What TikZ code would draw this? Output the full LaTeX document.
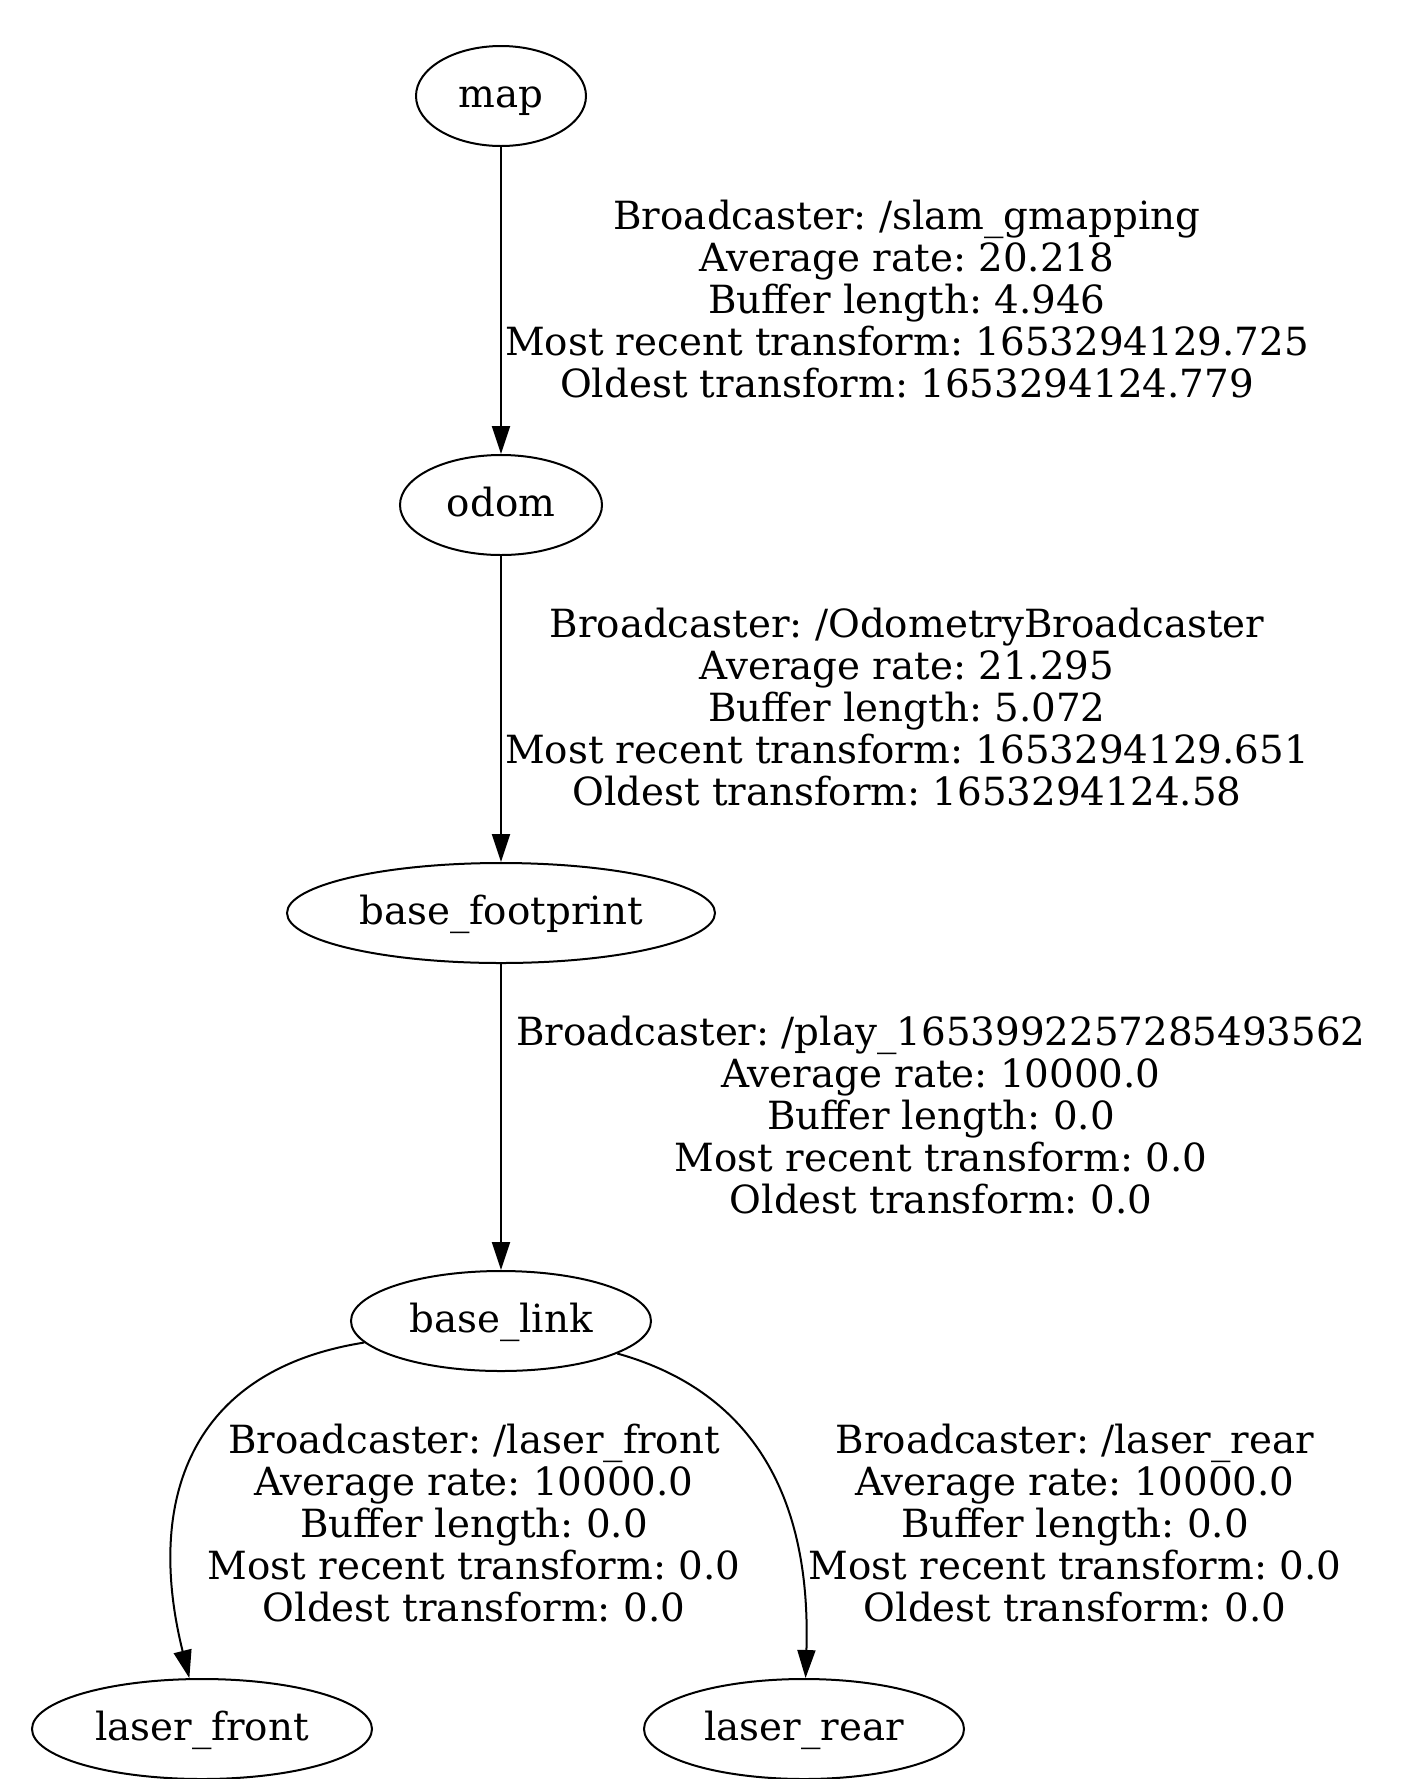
\documentclass[tikz,border=0pt]{standalone}
\usepackage{fontspec}
\setmainfont{DejaVu Serif}
\usetikzlibrary{shapes.geometric,arrows.meta}
\frenchspacing

\begin{document}
\begin{tikzpicture}[x=0.5pt, y=-0.5pt,
  frame/.style={draw, ellipse, line width=1pt, inner sep=0pt, minimum height=50pt, text height=11pt, text depth=0pt, font=\fontsize{19.4}{21}\selectfont},
  info/.style={align=center, inner sep=0pt, font=\fontsize{19.4}{21}\selectfont}]

\useasboundingbox (0,0) rectangle (1406,1779);

\node [frame, minimum width=85pt] (map) at (501,96) {map};
\node [frame, minimum width=101pt] (odom) at (501,505) {odom};
\node [frame, minimum width=214pt] (bfp) at (501,913) {base\_footprint};
\node [frame, minimum width=150pt] (blink) at (501,1321) {base\_link};
\node [frame, minimum width=170pt] (lfront) at (202,1729) {laser\_front};
\node [frame, minimum width=160pt] (lrear) at (804,1729) {laser\_rear};

\node [info] (i1) at (907,299) {Broadcaster: /slam\_gmapping\\Average rate: 20.218\\Buffer length: 4.946\\Most recent transform: 1653294129.725\\Oldest transform: 1653294124.779};
\node [info] (i2) at (907,707) {Broadcaster: /OdometryBroadcaster\\Average rate: 21.295\\Buffer length: 5.072\\Most recent transform: 1653294129.651\\Oldest transform: 1653294124.58};
\node [info] (i3) at (941,1115) {Broadcaster: /play\_1653992257285493562\\Average rate: 10000.0\\Buffer length: 0.0\\Most recent transform: 0.0\\Oldest transform: 0.0};
\node [info] (i4) at (474,1523) {Broadcaster: /laser\_front\\Average rate: 10000.0\\Buffer length: 0.0\\Most recent transform: 0.0\\Oldest transform: 0.0};
\node [info] (i5) at (1075,1523) {Broadcaster: /laser\_rear\\Average rate: 10000.0\\Buffer length: 0.0\\Most recent transform: 0.0\\Oldest transform: 0.0};

\begin{scope}[line width=1pt, -{Triangle[length=14pt,width=9pt]}]
\draw (map) -- (odom); %map-odom
\draw (odom) -- (bfp); %odom-bfp
\draw (bfp) -- (blink); %bfp-blink
\draw (blink) .. controls (190,1370) and (145,1500) .. (lfront); %blink-lfront
\draw (blink) .. controls (730,1385) and (812,1470) .. (lrear); %blink-lrear
\end{scope}

\end{tikzpicture}
\end{document}
